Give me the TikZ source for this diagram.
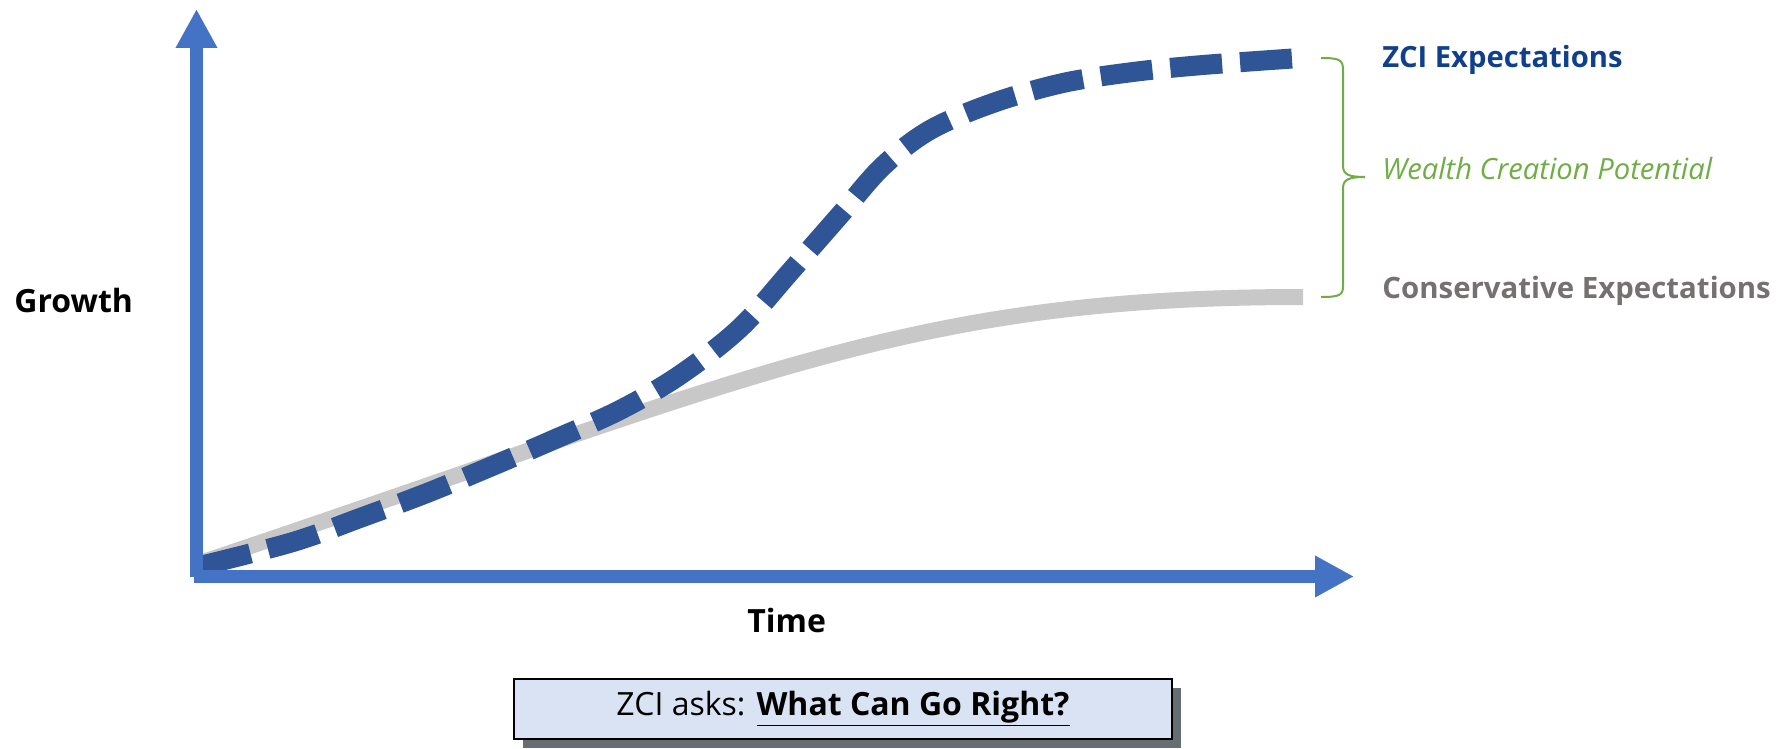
\documentclass[tikz,border=0pt]{standalone}
\usepackage{fontspec}
\setmainfont{Open Sans}
\usetikzlibrary{arrows.meta,shadows}
\definecolor{axisblue}{RGB}{68,114,196}
\definecolor{zciblue}{RGB}{47,85,151}
\definecolor{zcitext}{RGB}{16,64,140}
\definecolor{consgray}{RGB}{200,200,200}
\definecolor{constext}{RGB}{118,113,113}
\definecolor{wealthgreen}{RGB}{112,173,71}
\definecolor{boxfill}{RGB}{218,227,243}
\definecolor{shadowc}{RGB}{103,110,115}
\tikzset{
  axisline/.style={draw=axisblue,line width=6.5pt,-{Triangle[length=19.5pt,width=19.5pt]}},
  zcicurve/.style={draw=zciblue,line width=10pt,dash pattern=on 26pt off 9pt},
  conscurve/.style={draw=consgray,line width=8pt},
  bracepath/.style={draw=wealthgreen,line width=1pt},
  axislabel/.style={font=\fontsize{16}{19}\selectfont\bfseries,anchor=base west,inner sep=0pt},
  sidelabel/.style={anchor=base west,inner sep=0pt},
  askbox/.style={draw=black,line width=1pt,fill=boxfill,minimum width=329pt,minimum height=30pt,inner sep=0pt,
    drop shadow={shadow xshift=4.5pt,shadow yshift=-4.5pt,fill=shadowc,opacity=1}}
}
\begin{document}
\begin{tikzpicture}[x=0.5pt,y=-0.5pt]
\fill[white] (0,0) rectangle (1790,749);
\useasboundingbox (0,0) rectangle (1790,749);
% curves
\draw[conscurve] (200,563) .. controls (750,379) and (903,297) .. (1303,297);
\draw[zcicurve] plot[smooth,tension=0.55] coordinates {(200,566) (293,542) (360,518) (427,493) (490,467) (553,440) (620,410) (680,375) (740,328) (790,272) (840,215) (883,166) (930,130) (993,103) (1063,83) (1133,72) (1203,65) (1300,58)};
% axes
\coordinate (O) at (196.5,576.5);
\coordinate (Ostart) at (194,576.5);
\coordinate (Ytip) at (196.5,9);
\coordinate (Xtip) at (1354,576.5);
\draw[axisline] (O) -- (Ytip);
\draw[axisline] (Ostart) -- (Xtip);
% brace
\draw[bracepath] (1321,58) .. controls (1340,58) and (1343,60) .. (1343,70) -- (1343,166)
  .. controls (1343,175) and (1350,177) .. (1365,177)
  .. controls (1350,177) and (1343,179) .. (1343,188) -- (1343,286)
  .. controls (1343,295) and (1340,297) .. (1321,297);
% labels
\node[sidelabel,text=zcitext,font=\fontsize{14.6}{17}\selectfont\bfseries] (zcilab) at (1382,68) {ZCI Expectations};
\node[sidelabel,text=wealthgreen,font=\fontsize{14.6}{17}\selectfont\itshape] (wealthlab) at (1382,180) {Wealth Creation Potential};
\node[sidelabel,text=constext,font=\fontsize{14.7}{17}\selectfont\bfseries] (conslab) at (1382,298) {Conservative Expectations};
\node[axislabel] (growth) at (14,312) {Growth};
\node[axislabel] (time) at (747,632) {Time};
\node[askbox] (ask) at (843,709) {\fontsize{16}{19}\selectfont ZCI asks: \underline{\bfseries What Can Go Right?}};
\end{tikzpicture}
\end{document}
